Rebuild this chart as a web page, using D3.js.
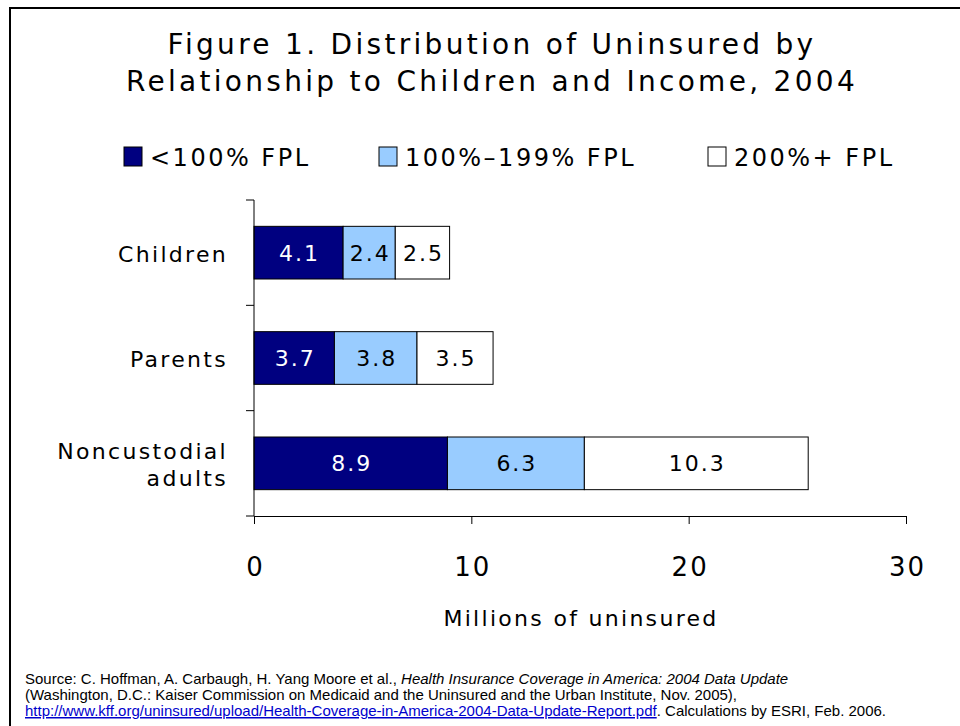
<!DOCTYPE html>
<html lang="en">
<head>
    <meta charset="UTF-8">
    <title>Distribution of Uninsured</title>
    <style>
        html, body { margin: 0; padding: 0; background: #fff; overflow: hidden; }
        text { font-family: 'DejaVu Sans', Verdana, sans-serif; }
        text.src { font-family: 'Liberation Sans', Arial, sans-serif; font-size: 15px; }
    </style>
</head>
<body>
    <script src="https://cdn.jsdelivr.net/npm/d3@7"></script>
    <script>
        const categories = ['Children', 'Parents', 'Noncustodial adults']
        const series = ['<100% FPL', '100%–199% FPL', '200%+ FPL']
        const below100 = [4.1, 3.7, 8.9]
        const from100to199 = [2.4, 3.8, 6.3]
        const above200 = [2.5, 3.5, 10.3]
        const xTicks = [0, 10, 20, 30]

        const colors = ['#000080', '#99ccff', '#ffffff']
        const labelColors = ['#ffffff', '#000000', '#000000']

        const width = 960
        const height = 726

        const svg = d3.select('body')
            .append('svg')
            .attr('width', width)
            .attr('height', height)

        // slide frame: top and left edges only
        svg.append('path')
            .attr('d', 'M10,726 V8 H960')
            .attr('fill', 'none')
            .attr('stroke', '#000')
            .attr('stroke-width', 2)

        const titleLines = ['Figure 1. Distribution of Uninsured by', 'Relationship to Children and Income, 2004']
        svg.selectAll('.title')
            .data(titleLines)
            .enter()
            .append('text')
            .attr('class', 'title')
            .attr('x', 492)
            .attr('y', (d, i) => 54 + i * 37)
            .attr('text-anchor', 'middle')
            .attr('font-size', 28)
            .attr('letter-spacing', 3.3)
            .text(d => d)

        // legend
        const legendX = [124, 379, 708]
        const legend = svg.selectAll('.legend')
            .data(series)
            .enter()
            .append('g')
            .attr('class', 'legend')
            .attr('transform', (d, i) => `translate(${legendX[i]}, 147)`)
        legend.append('rect')
            .attr('width', 18).attr('height', 19)
            .attr('fill', (d, i) => colors[i])
            .attr('stroke', '#000')
            .attr('stroke-width', 1)
        legend.append('text')
            .attr('x', 26).attr('y', 19)
            .attr('font-size', 24)
            .attr('letter-spacing', 2.5)
            .text(d => d)

        const margin = { top: 200, left: 254, right: 54, bottom: 210 }
        const w = width - margin.left - margin.right
        const h = height - margin.top - margin.bottom

        const x = d3.scaleLinear()
            .domain([0, 30])
            .range([0, w])

        const y = d3.scaleBand()
            .domain(categories)
            .range([0, h])
            .paddingInner(0.5)
            .paddingOuter(0.25)

        const g = svg.append('g')
            .attr('transform', `translate(${margin.left}, ${margin.top})`)

        const data = categories.map((c, i) => ({
            category: c,
            values: [below100[i], from100to199[i], above200[i]]
        }))

        const stack = d3.stack()
            .keys([0, 1, 2])
            .value((d, k) => d.values[k])
        const layers = stack(data)

        const layer = g.selectAll('.layer')
            .data(layers)
            .enter()
            .append('g')
            .attr('class', 'layer')

        layer.selectAll('rect')
            .data(d => d.map(p => ({ p, k: d.key })))
            .enter()
            .append('rect')
            .attr('x', d => x(d.p[0]))
            .attr('y', d => y(d.p.data.category))
            .attr('width', d => x(d.p[1]) - x(d.p[0]))
            .attr('height', y.bandwidth())
            .attr('fill', d => colors[d.k])
            .attr('stroke', '#000')
            .attr('stroke-width', 1)

        layer.selectAll('text')
            .data(d => d.map(p => ({ p, k: d.key })))
            .enter()
            .append('text')
            .attr('x', d => (x(d.p[0]) + x(d.p[1])) / 2 + 1)
            .attr('y', d => y(d.p.data.category) + y.bandwidth() / 2 + 8)
            .attr('text-anchor', 'middle')
            .attr('font-size', 22)
            .attr('letter-spacing', 2)
            .attr('fill', d => labelColors[d.k])
            .text(d => d.p.data.values[d.k].toFixed(1))

        // y axis with tick marks between categories
        const step = y.step()
        const yTicks = d3.range(categories.length + 1).map(i => i * step)
        g.append('line')
            .attr('x1', 0).attr('x2', 0)
            .attr('y1', 0).attr('y2', h)
            .attr('stroke', '#000')
        g.selectAll('.ytick')
            .data(yTicks)
            .enter()
            .append('line')
            .attr('class', 'ytick')
            .attr('x1', -8).attr('x2', 0)
            .attr('y1', d => d).attr('y2', d => d)
            .attr('stroke', '#000')

        // category labels
        const catLines = [['Children'], ['Parents'], ['Noncustodial', 'adults']]
        g.selectAll('.cat')
            .data(categories)
            .enter()
            .append('text')
            .attr('class', 'cat')
            .attr('text-anchor', 'end')
            .attr('font-size', 22)
            .attr('letter-spacing', 2.3)
            .attr('transform', d => `translate(-26, ${y(d) + y.bandwidth() / 2})`)
            .each(function (d, i) {
                const lines = catLines[i]
                const t = d3.select(this)
                lines.forEach((l, j) => {
                    t.append('tspan')
                        .attr('x', 0)
                        .attr('y', 9 + (j - (lines.length - 1) / 2) * 27)
                        .text(l)
                })
            })

        // x axis
        const xAxis = g.append('g')
            .attr('transform', `translate(0, ${h})`)
            .call(d3.axisBottom(x).tickValues(xTicks).tickSize(8).tickPadding(34))
        xAxis.select('.domain').attr('stroke', '#000')
        xAxis.selectAll('.tick line').attr('stroke', '#000')
        xAxis.selectAll('.tick text')
            .attr('font-size', 26)
            .attr('letter-spacing', 2)
            .attr('dx', 1)
            .attr('font-family', "'DejaVu Sans', Verdana, sans-serif")
            .attr('fill', '#000')

        g.append('text')
            .attr('x', w / 2 + 1)
            .attr('y', h + 110)
            .attr('text-anchor', 'middle')
            .attr('font-size', 22)
            .attr('letter-spacing', 2.3)
            .text('Millions of uninsured')

        // source note
        const l1 = svg.append('text').attr('class', 'src').attr('x', 25).attr('y', 684)
        l1.append('tspan').text('Source: C. Hoffman, A. Carbaugh, H. Yang Moore et al., ')
        l1.append('tspan').attr('font-style', 'italic').text('Health Insurance Coverage in America: 2004 Data Update')
        svg.append('text').attr('class', 'src').attr('x', 25).attr('y', 700)
            .text('(Washington, D.C.: Kaiser Commission on Medicaid and the Uninsured and the Urban Institute, Nov. 2005),')
        const l3 = svg.append('text').attr('class', 'src').attr('x', 25).attr('y', 716)
        l3.append('tspan').attr('fill', '#0000cc').attr('text-decoration', 'underline')
            .text('http://www.kff.org/uninsured/upload/Health-Coverage-in-America-2004-Data-Update-Report.pdf')
        l3.append('tspan').text('. Calculations by ESRI, Feb. 2006.')
    </script>
</body>
</html>
